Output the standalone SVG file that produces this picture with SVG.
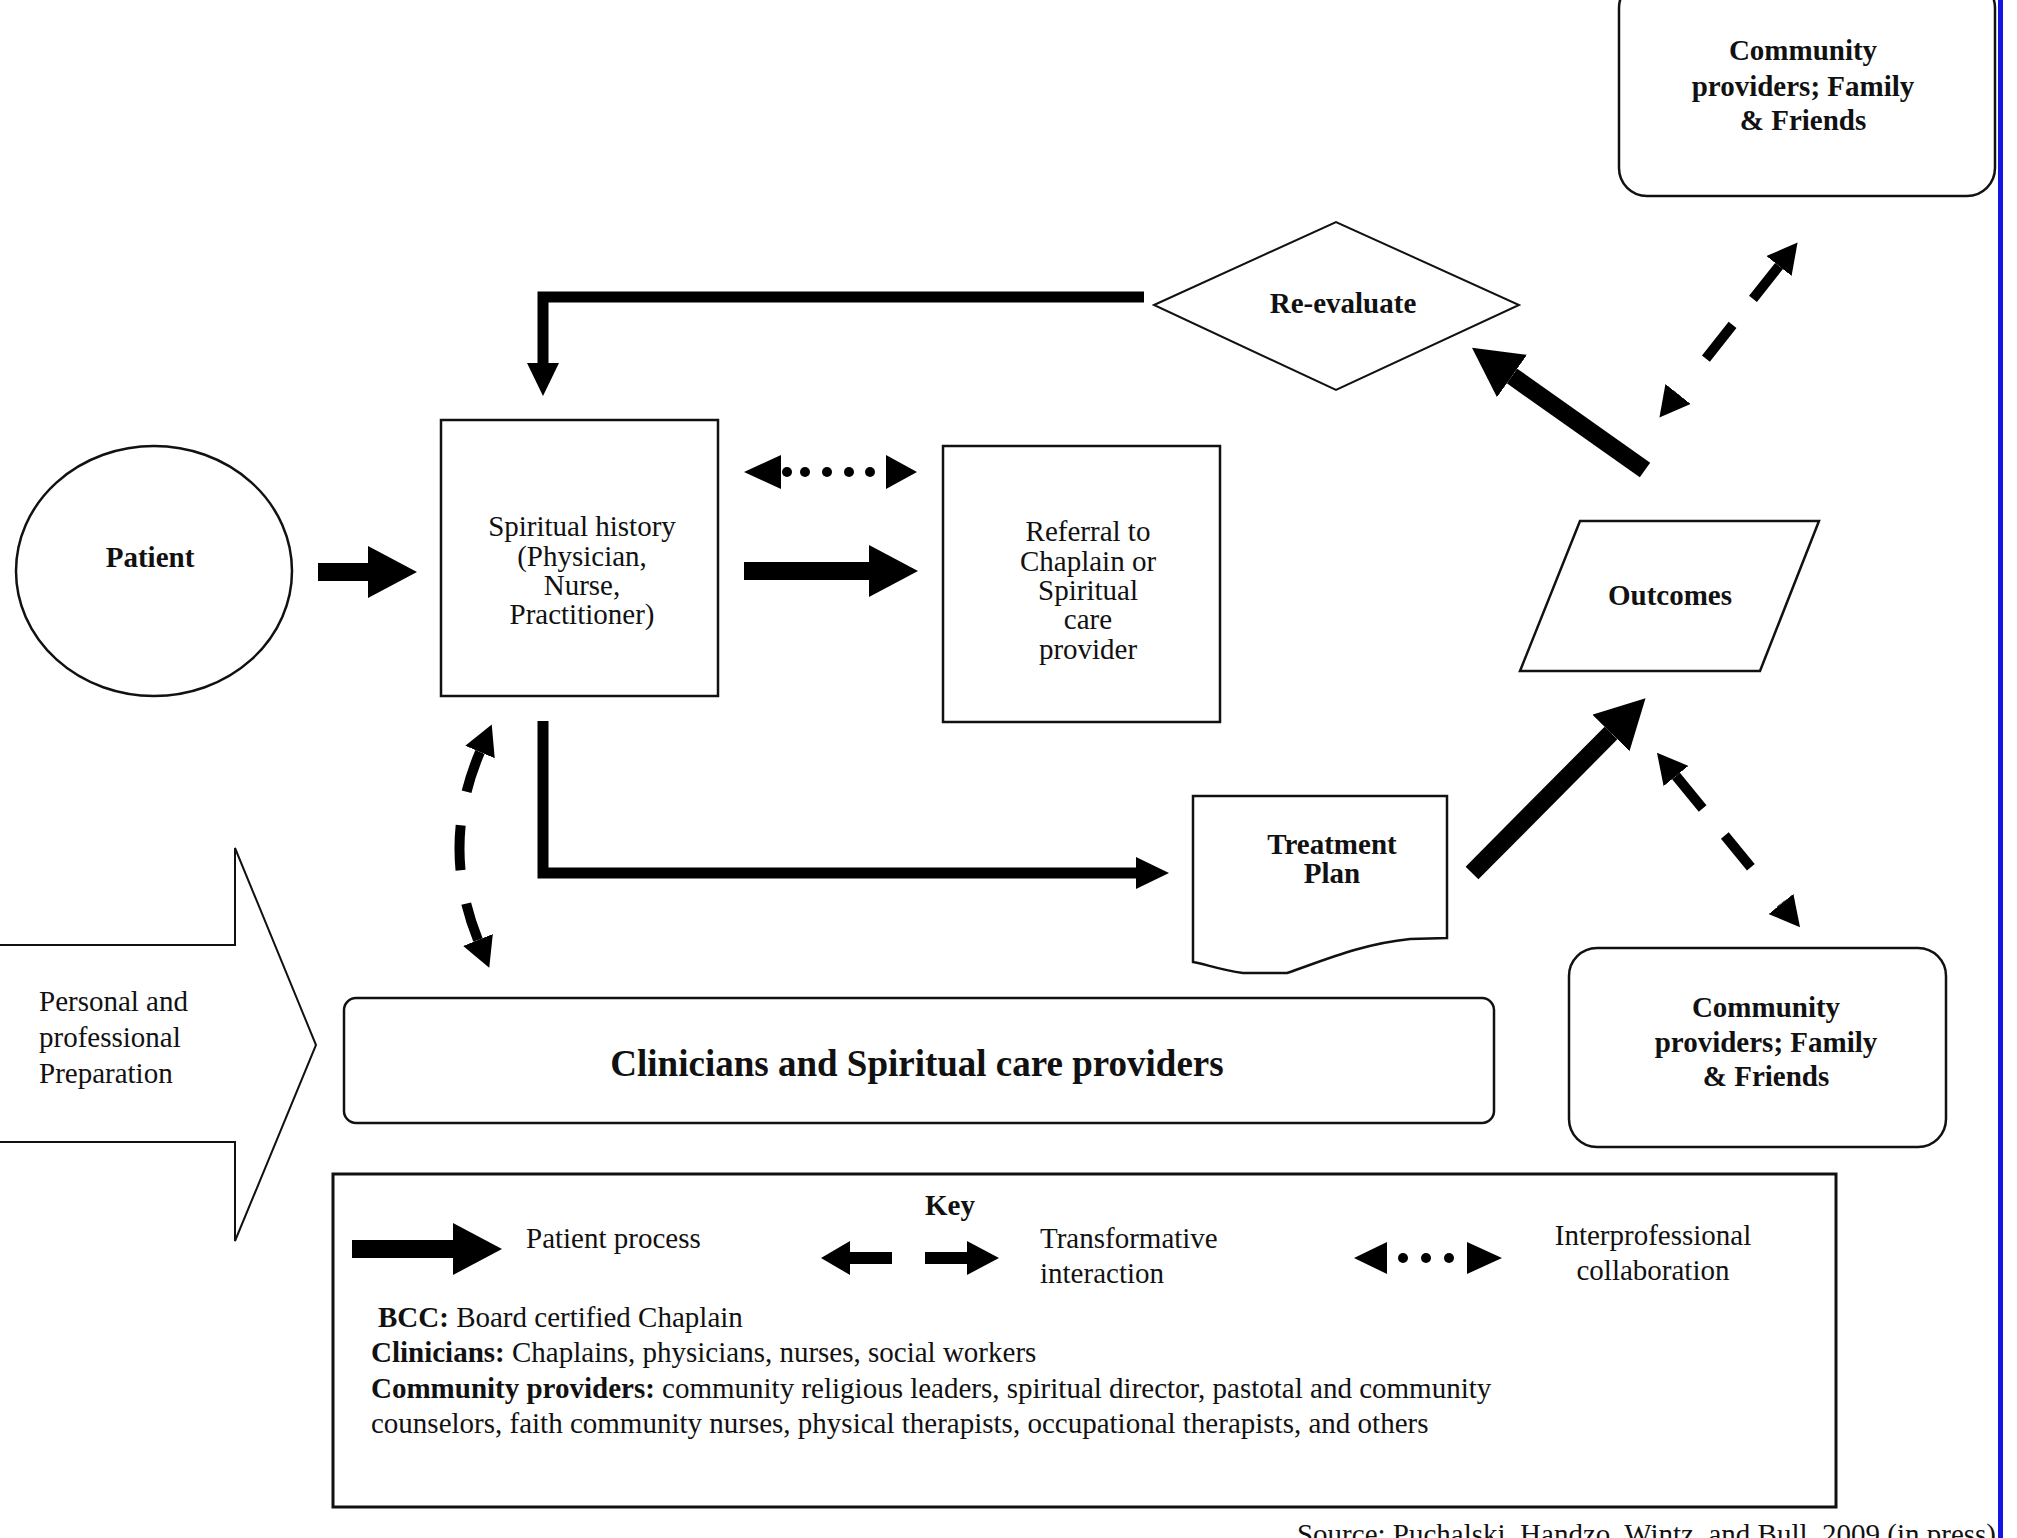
<svg xmlns="http://www.w3.org/2000/svg" width="2017" height="1538" viewBox="0 0 2017 1538">
<style>
  text { font-family: "Liberation Serif", "Times New Roman", serif; fill: #111; }
  .r { font-size: 29px; }
  .b { font-size: 29px; font-weight: bold; }
  .big { font-size: 37px; font-weight: bold; }
  .c { text-anchor: middle; }
  .shape { fill: #fff; stroke: #111; stroke-width: 2.5; }
  .thin { fill: #fff; stroke: #111; stroke-width: 2; }
  .thick { fill: none; stroke: #000; stroke-width: 18; }
  .mid { fill: none; stroke: #000; stroke-width: 11; }
  .dash { fill: none; stroke: #000; stroke-width: 10; }
  .solid { fill: #000; }
</style>
<defs>
  <marker id="bigHead" markerUnits="userSpaceOnUse" markerWidth="50" markerHeight="52" viewBox="0 0 50 52" refX="0" refY="26" orient="auto">
    <path d="M0,0 L49,26 L0,52 Z" fill="#000"/>
  </marker>
  <marker id="smallHead" markerUnits="userSpaceOnUse" markerWidth="34" markerHeight="34" viewBox="0 0 34 34" refX="0" refY="17" orient="auto">
    <path d="M0,1 L33,17 L0,33 Z" fill="#000"/>
  </marker>
  <marker id="dashHead" markerUnits="userSpaceOnUse" markerWidth="31" markerHeight="32" viewBox="0 0 31 32" refX="0" refY="16" orient="auto-start-reverse">
    <path d="M0,0 L30,16 L0,32 Z" fill="#000"/>
  </marker>
</defs>

<rect x="0" y="0" width="2017" height="1538" fill="#fff"/>
<rect x="1998" y="0" width="5" height="1538" fill="#1414e6"/>

<g id="patient">
  <ellipse class="shape" cx="154" cy="571" rx="138" ry="125"/>
  <text class="b c" x="150" y="567">Patient</text>
</g>

<g id="spiritual-history">
  <rect class="shape" x="441" y="420" width="277" height="276"/>
  <text class="r c" x="582" y="536">Spiritual history</text>
  <text class="r c" x="582" y="566">(Physician,</text>
  <text class="r c" x="582" y="595">Nurse,</text>
  <text class="r c" x="582" y="624">Practitioner)</text>
</g>

<g id="referral">
  <rect class="shape" x="943" y="446" width="277" height="276"/>
  <text class="r c" x="1088" y="541">Referral to</text>
  <text class="r c" x="1088" y="571">Chaplain or</text>
  <text class="r c" x="1088" y="600">Spiritual</text>
  <text class="r c" x="1088" y="629">care</text>
  <text class="r c" x="1088" y="659">provider</text>
</g>

<g id="re-evaluate">
  <polygon class="thin" points="1154,305 1336,222 1519,305 1336,390"/>
  <text class="b c" x="1343" y="313">Re-evaluate</text>
</g>

<g id="outcomes">
  <polygon class="shape" points="1580,521 1819,521 1760,671 1520,671"/>
  <text class="b c" x="1670" y="605">Outcomes</text>
</g>

<g id="community-top">
  <rect class="shape" x="1619" y="-20" width="376" height="216" rx="28" ry="28"/>
  <text class="b c" x="1803" y="60">Community</text>
  <text class="b c" x="1803" y="96">providers; Family</text>
  <text class="b c" x="1803" y="130">&amp; Friends</text>
</g>

<g id="treatment-plan">
  <path class="shape" d="M1193,796 L1447,796 L1447,938 L1410,939 C1360,944 1320,962 1287,973 L1243,973 C1220,970 1205,964 1193,962 Z"/>
  <text class="b c" x="1332" y="854">Treatment</text>
  <text class="b c" x="1332" y="883">Plan</text>
</g>

<g id="community-bottom">
  <rect class="shape" x="1569" y="948" width="377" height="199" rx="28" ry="28"/>
  <text class="b c" x="1766" y="1017">Community</text>
  <text class="b c" x="1766" y="1052">providers; Family</text>
  <text class="b c" x="1766" y="1086">&amp; Friends</text>
</g>

<g id="preparation">
  <polygon class="thin" points="-5,945 235,945 235,848 316,1045 235,1241 235,1142 -5,1142"/>
  <text class="r" x="39" y="1011">Personal and</text>
  <text class="r" x="39" y="1047">professional</text>
  <text class="r" x="39" y="1083">Preparation</text>
</g>

<g id="clinicians">
  <rect class="shape" x="344" y="998" width="1150" height="125" rx="12" ry="12"/>
  <text class="big c" x="917" y="1076">Clinicians and Spiritual care providers</text>
</g>

<g id="key">
  <rect x="333" y="1174" width="1503" height="333" fill="#fff" stroke="#111" stroke-width="3"/>
  <text class="b c" x="950" y="1215">Key</text>
  <line class="thick" x1="352" y1="1249" x2="453" y2="1249" stroke-width="17" marker-end="url(#bigHead)"/>
  <text class="r" x="526" y="1248">Patient process</text>
  <path class="solid" d="M821,1258 L850,1241 L850,1252 L892,1252 L892,1264 L850,1264 L850,1275 Z"/>
  <path class="solid" d="M999,1258 L967,1241 L967,1252 L925,1252 L925,1264 L967,1264 L967,1275 Z"/>
  <text class="r" x="1040" y="1248">Transformative</text>
  <text class="r" x="1040" y="1283">interaction</text>
  <path class="solid" d="M1354,1258 L1387,1242 L1387,1274 Z M1502,1258 L1467,1242 L1467,1274 Z"/>
  <circle class="solid" cx="1403" cy="1258" r="5"/>
  <circle class="solid" cx="1426" cy="1258" r="5"/>
  <circle class="solid" cx="1449" cy="1258" r="5"/>
  <text class="r c" x="1653" y="1245">Interprofessional</text>
  <text class="r c" x="1653" y="1280">collaboration</text>
  <text class="r" x="378" y="1327"><tspan font-weight="bold">BCC:</tspan> Board certified Chaplain</text>
  <text class="r" x="371" y="1362"><tspan font-weight="bold">Clinicians:</tspan> Chaplains, physicians, nurses, social workers</text>
  <text class="r" x="371" y="1398"><tspan font-weight="bold">Community providers:</tspan> community religious leaders, spiritual director, pastotal and community</text>
  <text class="r" x="371" y="1433">counselors, faith community nurses, physical therapists, occupational therapists, and others</text>
</g>

<text class="r" x="1996" y="1544" text-anchor="end">Source: Puchalski, Handzo, Wintz, and Bull, 2009 (in press)</text>

<g id="connectors">
  <line class="thick" x1="318" y1="572" x2="368" y2="572" marker-end="url(#bigHead)"/>
  <line class="thick" x1="744" y1="571" x2="869" y2="571" marker-end="url(#bigHead)"/>
  <line class="thick" x1="1645" y1="470" x2="1512" y2="376" stroke-width="17" marker-end="url(#bigHead)"/>
  <line class="thick" x1="1472" y1="873" x2="1611" y2="733" stroke-width="17" marker-end="url(#bigHead)"/>
  <polyline class="mid" points="1144,297 543,297 543,363" marker-end="url(#smallHead)"/>
  <polyline class="mid" points="543,721 543,873 1136,873" stroke-width="12" marker-end="url(#smallHead)"/>
  <path class="solid" d="M744,472 L781,455 L781,489 Z M917,472 L886,455 L886,489 Z"/>
  <circle class="solid" cx="787" cy="472" r="5"/>
  <circle class="solid" cx="805" cy="472" r="5"/>
  <circle class="solid" cx="827" cy="472" r="5"/>
  <circle class="solid" cx="849" cy="472" r="5"/>
  <circle class="solid" cx="870" cy="472" r="5"/>
  <path class="dash" d="M1779,266 L1678,394" stroke-dasharray="42 33 43 45" marker-start="url(#dashHead)" marker-end="url(#dashHead)"/>
  <path class="dash" d="M1676,776 L1781,904" stroke-dasharray="42 35 41 47" marker-start="url(#dashHead)" marker-end="url(#dashHead)"/>
  <path class="dash" d="M480,752 Q440,846 478,940" stroke-dasharray="42 34 45 34 45" marker-start="url(#dashHead)" marker-end="url(#dashHead)"/>
</g>
</svg>
